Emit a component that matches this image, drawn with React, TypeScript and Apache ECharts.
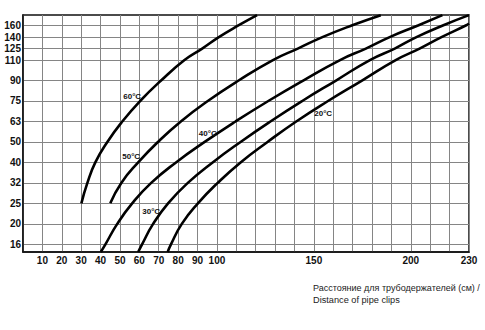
import React, { useEffect, useRef } from "react";
import * as echarts from "echarts";

// X axis: distance of pipe clips (cm)
const distanceLabels = [10, 20, 30, 40, 50, 60, 70, 80, 90, 100, 150, 200, 230];
// Y axis: pipe diameter (mm), drawn on an uneven row scale
const diameterTicks = [16, 20, 25, 32, 40, 50, 63, 75, 90, 110, 125, 140, 160];
const diameterRows = [0, 1, 2, 3, 4, 5, 6, 7, 8, 9, 9.56, 10.12, 10.7];

const seriesNames = ["60°C", "50°C", "40°C", "30°C", "20°C"];

// [distance, diameter]
const curve60 = [[30.1, 25], [33.2, 32], [37.3, 40], [43.5, 50], [51.2, 63], [60.4, 75], [71.2, 90], [83.3, 110], [92.4, 125], [101.0, 140], [111.3, 160], [120.7, 177]];
const curve50 = [[45.0, 25], [50.7, 32], [59.4, 40], [69.6, 50], [81.4, 63], [95.3, 75], [111.2, 90], [128.9, 110], [141.7, 125], [154.4, 140], [169.8, 160], [184.5, 177]];
const curve40 = [[40.1, 14.5], [42.5, 16], [48.6, 20], [56.3, 25], [66.1, 32], [78.9, 40], [93.7, 50], [109.6, 63], [126.5, 75], [144.5, 90], [163.5, 110], [176.8, 125], [189.1, 140], [204.0, 160], [216.3, 177]];
const curve30 = [[59.4, 14.5], [61.4, 16], [67.1, 20], [74.8, 25], [85.0, 32], [97.8, 40], [112.2, 50], [127.6, 63], [144.0, 75], [161.4, 90], [178.9, 110], [191.7, 125], [202.9, 140], [216.8, 160], [230, 177]];
const curve20 = [[74.6, 14.5], [76.3, 16], [81.9, 20], [90.2, 25], [100.4, 32], [112.2, 40], [126.1, 50], [140.9, 63], [157.3, 75], [174.8, 90], [192.2, 110], [204.5, 125], [215.8, 140], [228.6, 160], [230, 163]];

const curves = [curve60, curve50, curve40, curve30, curve20];
// label anchor points [distance, diameter]
const labelPoints = [[56.3, 78.3], [55.8, 42.9], [95.3, 55.3], [66.1, 23], [154.8, 67.7]];

function diamToRow(d: number): number {
  const t = diameterTicks;
  const r = diameterRows;
  const n = t.length;
  if (d <= t[0]) return r[0] + ((d - t[0]) * (r[1] - r[0])) / (t[1] - t[0]);
  for (let i = 0; i < n - 1; i++) {
    if (d <= t[i + 1]) return r[i] + ((d - t[i]) * (r[i + 1] - r[i])) / (t[i + 1] - t[i]);
  }
  return r[n - 1] + ((d - t[n - 1]) * (r[n - 1] - r[n - 2])) / (t[n - 1] - t[n - 2]);
}

const labelFont = "'Liberation Sans Narrow', 'Liberation Sans', sans-serif";

export default function App() {
  const ref = useRef<HTMLDivElement>(null);
  useEffect(() => {
    if (!ref.current) return;
    const chart = echarts.init(ref.current, null, { renderer: "svg" });
    const option: any = {
      animation: false,
      backgroundColor: "#ffffff",
      grid: {
        left: 23,
        right: 16,
        top: 15,
        bottom: 78,
        show: true,
        borderColor: "#111",
        borderWidth: 1.5,
        containLabel: false,
      },
      xAxis: {
        type: "value",
        min: 0,
        max: 230,
        interval: 10,
        axisLine: { show: true, onZero: false, lineStyle: { color: "#111", width: 1.5 } },
        axisTick: { show: false },
        splitLine: { show: true, lineStyle: { color: "#858585", width: 1 } },
        axisLabel: {
          customValues: distanceLabels,
          formatter: (v: number) => String(v),
          fontFamily: labelFont,
          fontWeight: "bold",
          fontSize: 10,
          color: "#111",
          margin: 3,
        },
      },
      yAxis: {
        type: "value",
        min: -0.375,
        max: 11.2,
        axisLine: { show: true, onZero: false, lineStyle: { color: "#111", width: 1.5 } },
        axisTick: { show: false, customValues: diameterRows },
        splitLine: { show: true, lineStyle: { color: "#858585", width: 1 } },
        axisLabel: {
          customValues: diameterRows,
          formatter: (v: number) => {
            const i = diameterRows.findIndex((r) => Math.abs(r - v) < 1e-6);
            return i >= 0 ? String(diameterTicks[i]) : "";
          },
          fontFamily: labelFont,
          fontWeight: "bold",
          fontSize: 10,
          color: "#111",
          margin: 2,
        },
      },
      series: curves.map((c, idx) => ({
        name: seriesNames[idx],
        type: "line",
        data: c.map((p) => [p[0], diamToRow(p[1])]),
        showSymbol: false,
        symbol: "none",
        smooth: 0.5,
        clip: true,
        lineStyle: { color: "#000", width: 2.6 },
        markPoint: {
          symbol: "circle",
          symbolSize: 1,
          itemStyle: { color: "rgba(0,0,0,0)" },
          label: {
            show: true,
            position: "inside",
            formatter: seriesNames[idx],
            fontFamily: labelFont,
            fontWeight: "bold",
            fontSize: 8,
            color: "#111",
          },
          data: [{ coord: [labelPoints[idx][0], diamToRow(labelPoints[idx][1])] }],
        },
      })),
      graphic: [
        {
          type: "text",
          left: 313,
          top: 283,
          style: {
            text: "Расстояние для трубодержателей (см) /",
            font: "9px 'Liberation Sans', sans-serif",
            fill: "#222",
          },
        },
        {
          type: "text",
          left: 313,
          top: 295,
          style: {
            text: "Distance of pipe clips",
            font: "9.2px 'Liberation Sans Narrow', sans-serif",
            fill: "#222",
          },
        },
      ],
    };
    chart.setOption(option);
    return () => chart.dispose();
  }, []);
  return (
    <div
      ref={ref}
      style={{ position: "fixed", left: 0, top: 0, width: 485, height: 330, background: "#fff" }}
    />
  );
}
